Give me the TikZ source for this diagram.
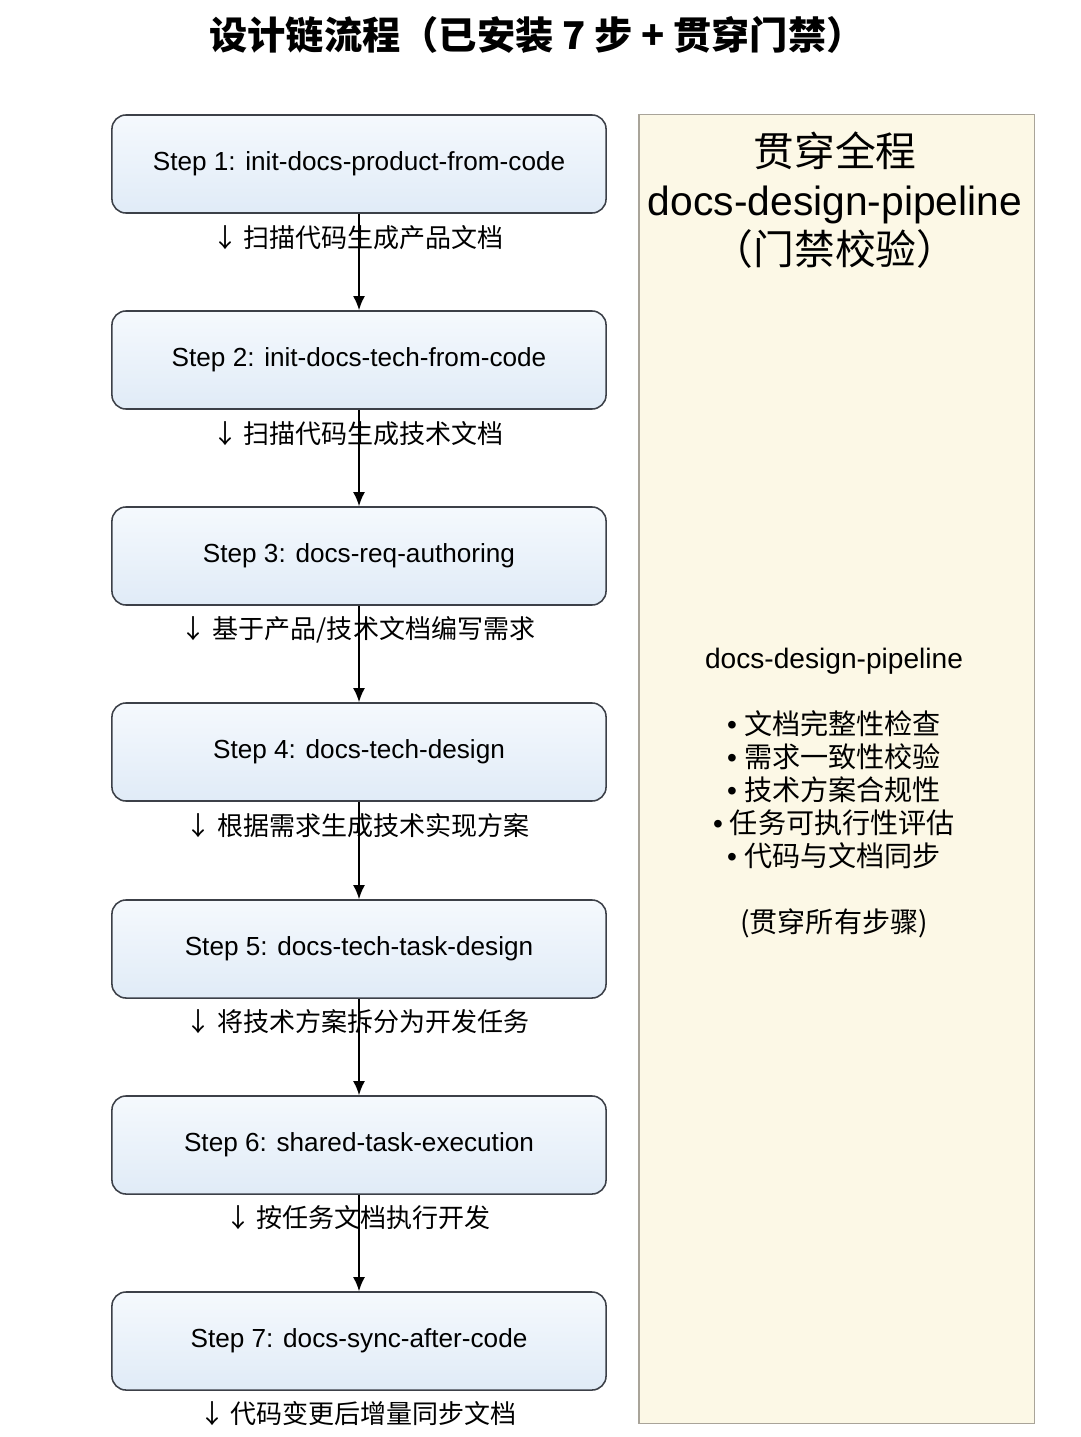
\documentclass[tikz,border=0pt]{standalone}
\usepackage{fontspec}
\setmainfont{Liberation Sans}
\newfontfamily\cjk{Noto Sans CJK SC}
\newfontfamily\latin{Liberation Sans}
\usetikzlibrary{arrows.meta}
\definecolor{boxtop}{HTML}{F5F9FD}
\definecolor{boxbot}{HTML}{E0EBF7}
\definecolor{boxline}{HTML}{3C4048}
\definecolor{gatefill}{HTML}{FCF8E6}
\definecolor{gateline}{HTML}{A9A499}
\begin{document}
\begin{tikzpicture}[x=0.025cm,y=-0.025cm,
  stepbox/.style={draw=boxline,line width=1.1pt,rounded corners=10pt,top color=boxtop,bottom color=boxbot,
    minimum width=12.35cm,minimum height=2.45cm,inner sep=0pt,font=\latin\fontsize{18.6}{22}\selectfont},
  note/.style={inner sep=0pt,font=\cjk\fontsize{18.5}{22}\selectfont},
  flow/.style={line width=1.3pt,-{Latex[length=10pt,width=8.5pt]}}]

\useasboundingbox[fill=white] (0,0) rectangle (1080,1437);

\node[font=\cjk\bfseries\fontsize{27.2}{30}\selectfont] (title) at (537,35) {设计链流程（已安装 7 步 + 贯穿门禁）};

% right panel
\node[draw=gateline,line width=0.8pt,fill=gatefill,minimum width=9.875cm,minimum height=32.7cm,inner sep=0pt] (gate) at (836.5,769) {};
\node[align=center,font=\fontsize{29}{34.8}\selectfont] (gatehead) at (835,200)
  {\cjk 贯穿全程\\ \latin docs-design-pipeline\\ \cjk （门禁校验）};
\node[align=center,font=\cjk\fontsize{20}{23.5}\selectfont] (gatelist) at (834,793)
  {\latin docs-design-pipeline\\[23.5pt]
   {\latin •}\kern5pt 文档完整性检查\\
   {\latin •}\kern5pt 需求一致性校验\\
   {\latin •}\kern5pt 技术方案合规性\\
   {\latin •}\kern5pt 任务可执行性评估\\
   {\latin •}\kern5pt 代码与文档同步\\[23.5pt]
   (贯穿所有步骤)};

% steps
\node[stepbox] (s1) at (359,164) {Step 1: init-docs-product-from-code};
\node[stepbox] (s2) at (359,360) {Step 2: init-docs-tech-from-code};
\node[stepbox] (s3) at (359,556) {Step 3: docs-req-authoring};
\node[stepbox] (s4) at (359,752) {Step 4: docs-tech-design};
\node[stepbox] (s5) at (359,949) {Step 5: docs-tech-task-design};
\node[stepbox] (s6) at (359,1145) {Step 6: shared-task-execution};
\node[stepbox] (s7) at (359,1341) {Step 7: docs-sync-after-code};

\node[note] (n1) at (358,238) {↓ 扫描代码生成产品文档};
\node[note] (n2) at (358,434) {↓ 扫描代码生成技术文档};
\node[note] (n3) at (358,630) {↓ 基于产品/技术文档编写需求};
\node[note] (n4) at (358,826) {↓ 根据需求生成技术实现方案};
\node[note] (n5) at (358,1022) {↓ 将技术方案拆分为开发任务};
\node[note] (n6) at (358,1218) {↓ 按任务文档执行开发};
\node[note] (n7) at (358,1414) {↓ 代码变更后增量同步文档};

\foreach \a/\b in {s1/s2,s2/s3,s3/s4,s4/s5,s5/s6,s6/s7}
  \draw[flow] (\a) -- (\b);

\end{tikzpicture}
\end{document}
